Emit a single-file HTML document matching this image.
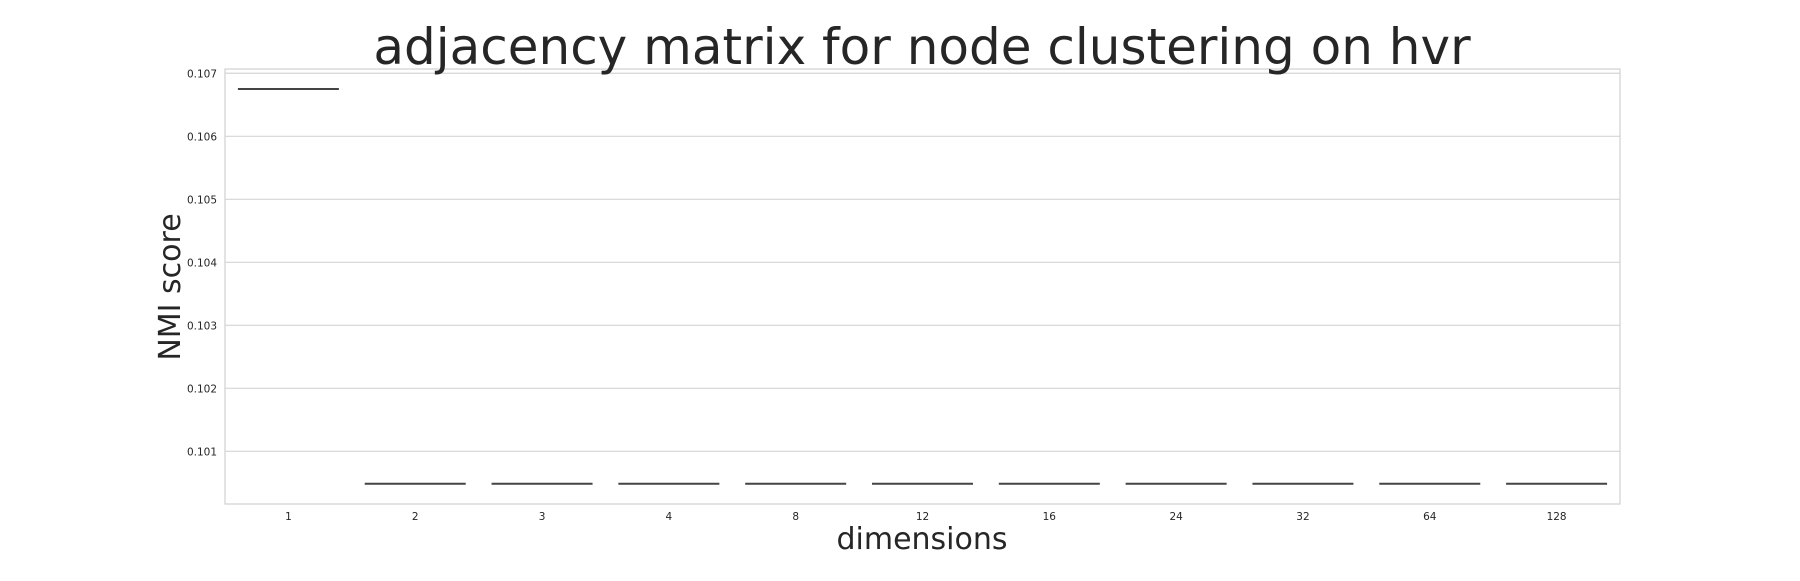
<!DOCTYPE html>
<html><head><meta charset="utf-8"><style>
body{margin:0;background:#fff;}
svg text{font-family:"DejaVu Sans","Liberation Sans",sans-serif;fill:#262626;}
</style></head><body>
<svg width="1800" height="576" xmlns="http://www.w3.org/2000/svg">
<g id="grid"></g>
<rect x="225" y="69" width="1395" height="435" fill="none" stroke="#d4d4d4" stroke-width="1.3"/>
<g id="marks"></g>
<g id="labels"></g>
<text x="922" y="64" font-size="50" text-anchor="middle">adjacency matrix for node clustering on hvr</text>
<text x="922" y="549" font-size="30" text-anchor="middle">dimensions</text>
<text transform="translate(180,287) rotate(-90)" font-size="30" text-anchor="middle">NMI score</text>
</svg>
<script>
const categories=["1","2","3","4","8","12","16","24","32","64","128"];
const values=[0.10675,0.100486,0.100486,0.100486,0.100486,0.100486,0.100486,0.100486,0.100486,0.100486,0.100486];
const yTicks=[0.101,0.102,0.103,0.104,0.105,0.106,0.107];
const yTickLabels=["0.101","0.102","0.103","0.104","0.105","0.106","0.107"];
const L=225,R=1620,T=69,B=504,yMin=0.100164,yMax=0.107068;
const ns="http://www.w3.org/2000/svg";
const y=v=>B-(v-yMin)/(yMax-yMin)*(B-T);
const bw=(R-L)/categories.length;
const x=i=>L+(i+0.5)*bw;
const grid=document.getElementById('grid'),marks=document.getElementById('marks'),labels=document.getElementById('labels');
yTicks.forEach((t,i)=>{
 const l=document.createElementNS(ns,'line');
 l.setAttribute('x1',L);l.setAttribute('x2',R);l.setAttribute('y1',y(t));l.setAttribute('y2',y(t));
 l.setAttribute('stroke','#d4d4d4');l.setAttribute('stroke-width','1.2');
 
 
 grid.appendChild(l);
 const tx=document.createElementNS(ns,'text');
 tx.setAttribute('x',217);tx.setAttribute('y',y(t)+4);tx.setAttribute('font-size','10.5');tx.setAttribute('text-anchor','end');
 tx.textContent=yTickLabels[i];
 
 
 labels.appendChild(tx);
});
categories.forEach((c,i)=>{
 const l=document.createElementNS(ns,'line');
 l.setAttribute('x1',x(i)-50.5);l.setAttribute('x2',x(i)+50.5);l.setAttribute('y1',y(values[i]));l.setAttribute('y2',y(values[i]));
 l.setAttribute('stroke','#444');l.setAttribute('stroke-width','2');
 
 
 marks.appendChild(l);
 const tx=document.createElementNS(ns,'text');
 tx.setAttribute('x',x(i));tx.setAttribute('y',520);tx.setAttribute('font-size','10.5');tx.setAttribute('text-anchor','middle');
 tx.textContent=c;
 
 
 labels.appendChild(tx);
});
</script>
</body></html>
